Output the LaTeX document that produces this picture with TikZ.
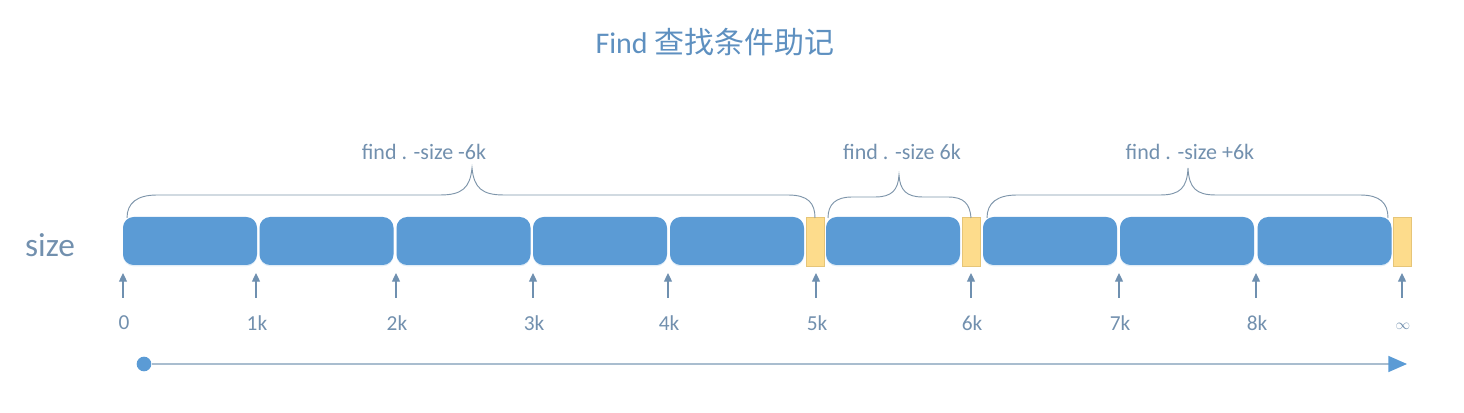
\documentclass[tikz,border=0pt]{standalone}
\usepackage{fontspec}
\setmainfont{Carlito}
\newfontfamily\cjk{Noto Sans CJK SC}
\usetikzlibrary{arrows.meta,shadows}
\definecolor{barblue}{HTML}{5B9BD5}
\definecolor{baryellow}{HTML}{FDDC8C}
\definecolor{yedge}{HTML}{E6C578}
\definecolor{txtc}{HTML}{7290AE}
\definecolor{titlec}{HTML}{5E90C0}
\definecolor{bracec}{HTML}{7E95AA}
\definecolor{tickc}{HTML}{6F90B0}
\definecolor{axisc}{HTML}{A9BDCF}
\tikzset{
  bar/.style={fill=barblue, draw=none, rounded corners=8pt, minimum width=100.5pt, minimum height=36pt, inner sep=0pt,
    drop shadow={shadow xshift=0pt, shadow yshift=-1pt, opacity=0.18, fill=barblue}},
  ybar/.style={fill=baryellow, draw=yedge, line width=0.4pt, minimum width=13.5pt, minimum height=36.5pt, inner sep=0pt},
  brace/.style={draw=bracec, line width=0.7pt},
  bracelbl/.style={text=txtc, font=\fontsize{16.5}{20}\selectfont, inner sep=0pt},
  ticklbl/.style={text=txtc, font=\fontsize{16}{19}\selectfont, inner sep=0pt},
  uparrow/.style={draw=tickc, line width=0.9pt, -{Triangle[length=6.5pt,width=6pt]}},
  axisline/.style={draw=axisc, line width=1.2pt, -{Triangle[length=14pt,width=12pt,color=barblue]}},
}
\begin{document}
\begin{tikzpicture}[x=0.75pt,y=-0.75pt]
\useasboundingbox (0,0) rectangle (1464,413);
% title
\node[text=titlec, font=\fontsize{22.5}{27}\selectfont, inner sep=0pt] (title) at (715,42) {Find {\cjk 查找条件助记}};
% row label
\node[text=txtc, font=\fontsize{25}{30}\selectfont, inner sep=0pt] (sizelbl) at (50,245) {size};
% bars
\foreach \n/\x in {b1/190,b2/326.5,b3/463.5,b4/600,b5/737,b6/893,b7/1050,b8/1187,b9/1324.5}
  \node[bar] (\n) at (\x,241) {};
\foreach \n/\x in {y1/815,y2/971.5,y3/1402.5}
  \node[ybar] (\n) at (\x,241.5) {};
% braces
\draw[brace] (127,218) .. controls (127,203) and (137,195) .. (157,195) -- (440,195)
  .. controls (462,195) and (470,188) .. (472,168)
  .. controls (474,188) and (482,195) .. (504,195) -- (788,195)
  .. controls (808,195) and (815,203) .. (815,218);
\draw[brace] (828,218) .. controls (828,204) and (836,197) .. (852,197) -- (875,197)
  .. controls (892,197) and (898,190) .. (899,175)
  .. controls (900,190) and (906,197) .. (923,197) -- (948,197)
  .. controls (964,197) and (970,204) .. (971,218);
\draw[brace] (987,218) .. controls (987,203) and (997,195) .. (1017,195) -- (1160,195)
  .. controls (1180,195) and (1187,188) .. (1188,168)
  .. controls (1189,188) and (1196,195) .. (1216,195) -- (1360,195)
  .. controls (1380,195) and (1388,203) .. (1388,218);
\node[bracelbl] (l1) at (424,152) {find . -size -6k};
\node[bracelbl] (l2) at (902,152) {find . -size 6k};
\node[bracelbl] (l3) at (1190,152) {find . -size +6k};
% ticks
\foreach \x/\t/\n in {123/0/t0,256/1k/t1,396/2k/t2,533/3k/t3,668/4k/t4,816/5k/t5,971/6k/t6,1119/7k/t7,1256/8k/t8}{
  \coordinate (\n s) at (\x,298);
  \coordinate (\n e) at (\x,273);
  \draw[uparrow] (\n s) -- (\n e);
  \node[ticklbl] (\n l) at (\x+1,323) {\t};
}
\coordinate (tinfs) at (1402,298);
\coordinate (tinfe) at (1402,273);
\draw[uparrow] (tinfs) -- (tinfe);
\node[text=txtc, font=\fontsize{11}{13}\selectfont, inner sep=0pt] (tinfl) at (1403,326) {$\infty$};
% axis
\node[circle, fill=barblue, minimum size=11pt, inner sep=0pt] (dot) at (144,364) {};
\coordinate (axend) at (1407,364);
\draw[axisline] (dot) -- (axend);
\end{tikzpicture}
\end{document}
